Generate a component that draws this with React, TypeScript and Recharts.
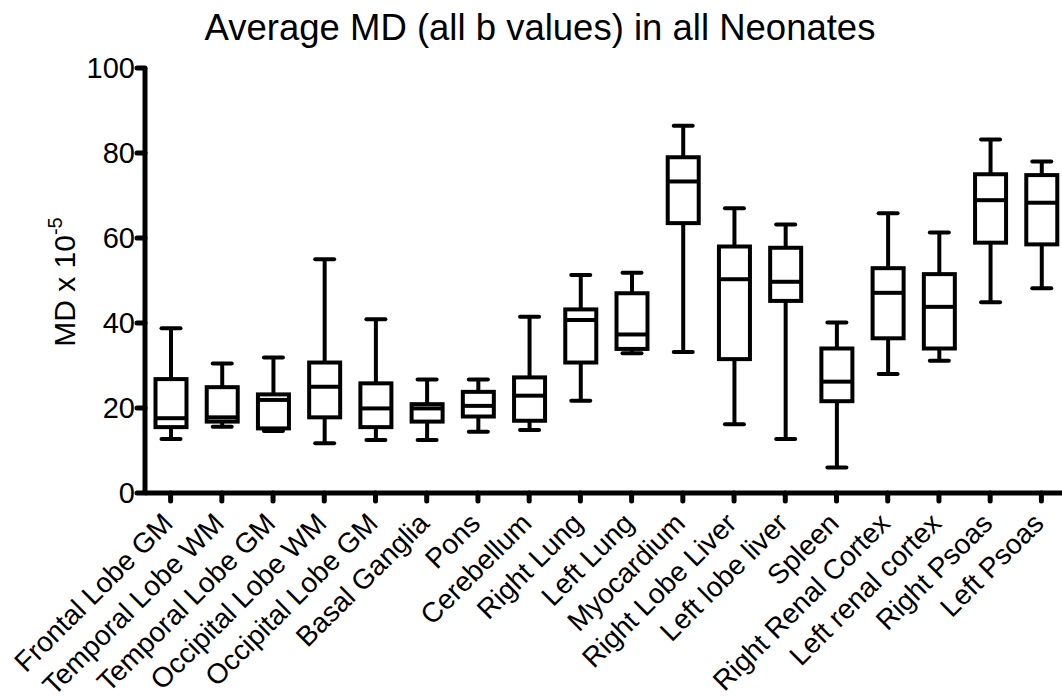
import React from "react"
import { Bar, ComposedChart, XAxis, YAxis } from "recharts"

const regions = [
  "Frontal Lobe GM",
  "Temporal Lobe WM",
  "Temporal Lobe GM",
  "Occipital Lobe WM",
  "Occipital Lobe GM",
  "Basal Ganglia",
  "Pons",
  "Cerebellum",
  "Right Lung",
  "Left Lung",
  "Myocardium",
  "Right Lobe Liver",
  "Left lobe liver",
  "Spleen",
  "Right Renal Cortex",
  "Left renal cortex",
  "Right Psoas",
  "Left Psoas",
]

// whisker ends, quartiles and medians (MD x 10^-5)
const mins = [12.7, 15.6, 14.6, 11.7, 12.5, 12.5, 14.4, 14.8, 21.7, 32.9, 33.2, 16.2, 12.7, 6.0, 28.0, 31.1, 44.9, 48.2]
const q1s = [15.5, 16.8, 15.2, 17.8, 15.5, 16.8, 18.0, 17.0, 30.7, 33.9, 63.5, 31.5, 45.2, 21.6, 36.4, 34.0, 58.9, 58.5]
const medians = [17.6, 17.8, 21.9, 25.0, 19.9, 19.9, 20.5, 22.9, 40.7, 37.3, 73.3, 50.3, 49.7, 26.2, 47.1, 43.8, 68.9, 68.3]
const q3s = [26.8, 24.9, 23.2, 30.7, 25.8, 20.9, 23.8, 27.2, 43.2, 47.0, 79.0, 58.0, 57.7, 34.0, 52.9, 51.5, 75.0, 74.8]
const maxs = [38.75, 30.5, 31.9, 55.0, 40.9, 26.7, 26.7, 41.5, 51.3, 51.8, 86.4, 67.0, 63.2, 40.1, 65.8, 61.3, 83.2, 78.0]

const yTicks = [0, 20, 40, 60, 80, 100]

const data = regions.map((name, i) => ({
  name,
  min: mins[i],
  q1: q1s[i],
  median: medians[i],
  q3: q3s[i],
  max: maxs[i],
  range: [mins[i], maxs[i]],
}))

const FONT = "'Liberation Sans', Arial, Helvetica, sans-serif"

const BoxShape = (props: any) => {
  const { x, y, width, height, payload } = props
  if (payload == null) return null
  const { min, q1, median, q3, max } = payload
  const top = Math.min(y, y + height)
  const h = Math.abs(height)
  const k = h / (max - min)
  const py = (v: number) => top + (max - v) * k
  const cx = x + width / 2
  const boxW = 31
  const capW = 19
  const sw = 4
  return (
    <g stroke="#000" strokeWidth={sw} fill="none">
      <line x1={cx} x2={cx} y1={py(max)} y2={py(q3)} />
      <line x1={cx} x2={cx} y1={py(q1)} y2={py(min)} />
      <line x1={cx - capW / 2} x2={cx + capW / 2} y1={py(max)} y2={py(max)} strokeLinecap="round" />
      <line x1={cx - capW / 2} x2={cx + capW / 2} y1={py(min)} y2={py(min)} strokeLinecap="round" />
      <rect x={cx - boxW / 2} y={py(q3)} width={boxW} height={py(q1) - py(q3)} fill="#fff" />
      <line x1={cx - boxW / 2} x2={cx + boxW / 2} y1={py(median)} y2={py(median)} />
    </g>
  )
}

const XTick = (props: any) => {
  const { x, y, payload } = props
  const px = x + 4
  const py = y + 22
  return (
    <text
      x={px}
      y={py}
      textAnchor="end"
      transform={`rotate(-45, ${px}, ${py})`}
      fontSize={28}
      fontFamily={FONT}
      fill="#000"
    >
      {payload.value}
    </text>
  )
}

const YTick = (props: any) => {
  const { x, y, payload } = props
  return (
    <text x={x} y={y} dy="0.36em" textAnchor="end" fontSize={29} fontFamily={FONT} fill="#000">
      {payload.value}
    </text>
  )
}

const YLabel = () => (
  <text
    x={67}
    y={274}
    textAnchor="middle"
    transform="rotate(-90, 67, 274)"
    fontSize={30}
    fontFamily={FONT}
    fill="#000"
  >
    MD x 10
    <tspan fontSize={20} dy={-13}>
      -5
    </tspan>
  </text>
)

export default function App() {
  return (
    <div
      style={{
        position: "fixed",
        left: 0,
        top: 0,
        width: 1062,
        height: 697,
        overflow: "hidden",
        background: "#fff",
      }}
    >
      <style>{"html,body{overflow:hidden;background:#fff}"}</style>
      <div
        style={{
          position: "absolute",
          left: 540,
          top: 8,
          transform: "translateX(-50%)",
          whiteSpace: "nowrap",
          fontFamily: FONT,
          fontSize: 36.5,
          lineHeight: "40px",
          color: "#000",
        }}
      >
        Average MD (all b values) in all Neonates
      </div>
      <div style={{ position: "absolute", left: 8, top: 8 }}>
        <ComposedChart
          width={1080}
          height={689}
          data={data}
          margin={{ top: 60, right: 21, bottom: 0, left: 0 }}
        >
          <XAxis
            dataKey="name"
            interval={0}
            height={204}
            tick={<XTick />}
            tickSize={8}
            axisLine={{ stroke: "#000", strokeWidth: 5 }}
            tickLine={{ stroke: "#000", strokeWidth: 5, strokeLinecap: "round" }}
          />
          <YAxis
            type="number"
            domain={[0, 100]}
            ticks={yTicks}
            width={137}
            tick={<YTick />}
            tickSize={8}
            axisLine={{ stroke: "#000", strokeWidth: 5 }}
            tickLine={{ stroke: "#000", strokeWidth: 5, strokeLinecap: "round" }}
            label={<YLabel />}
          />
          <Bar dataKey="range" barSize={34} shape={<BoxShape />} isAnimationActive={false} />
        </ComposedChart>
      </div>
    </div>
  )
}
